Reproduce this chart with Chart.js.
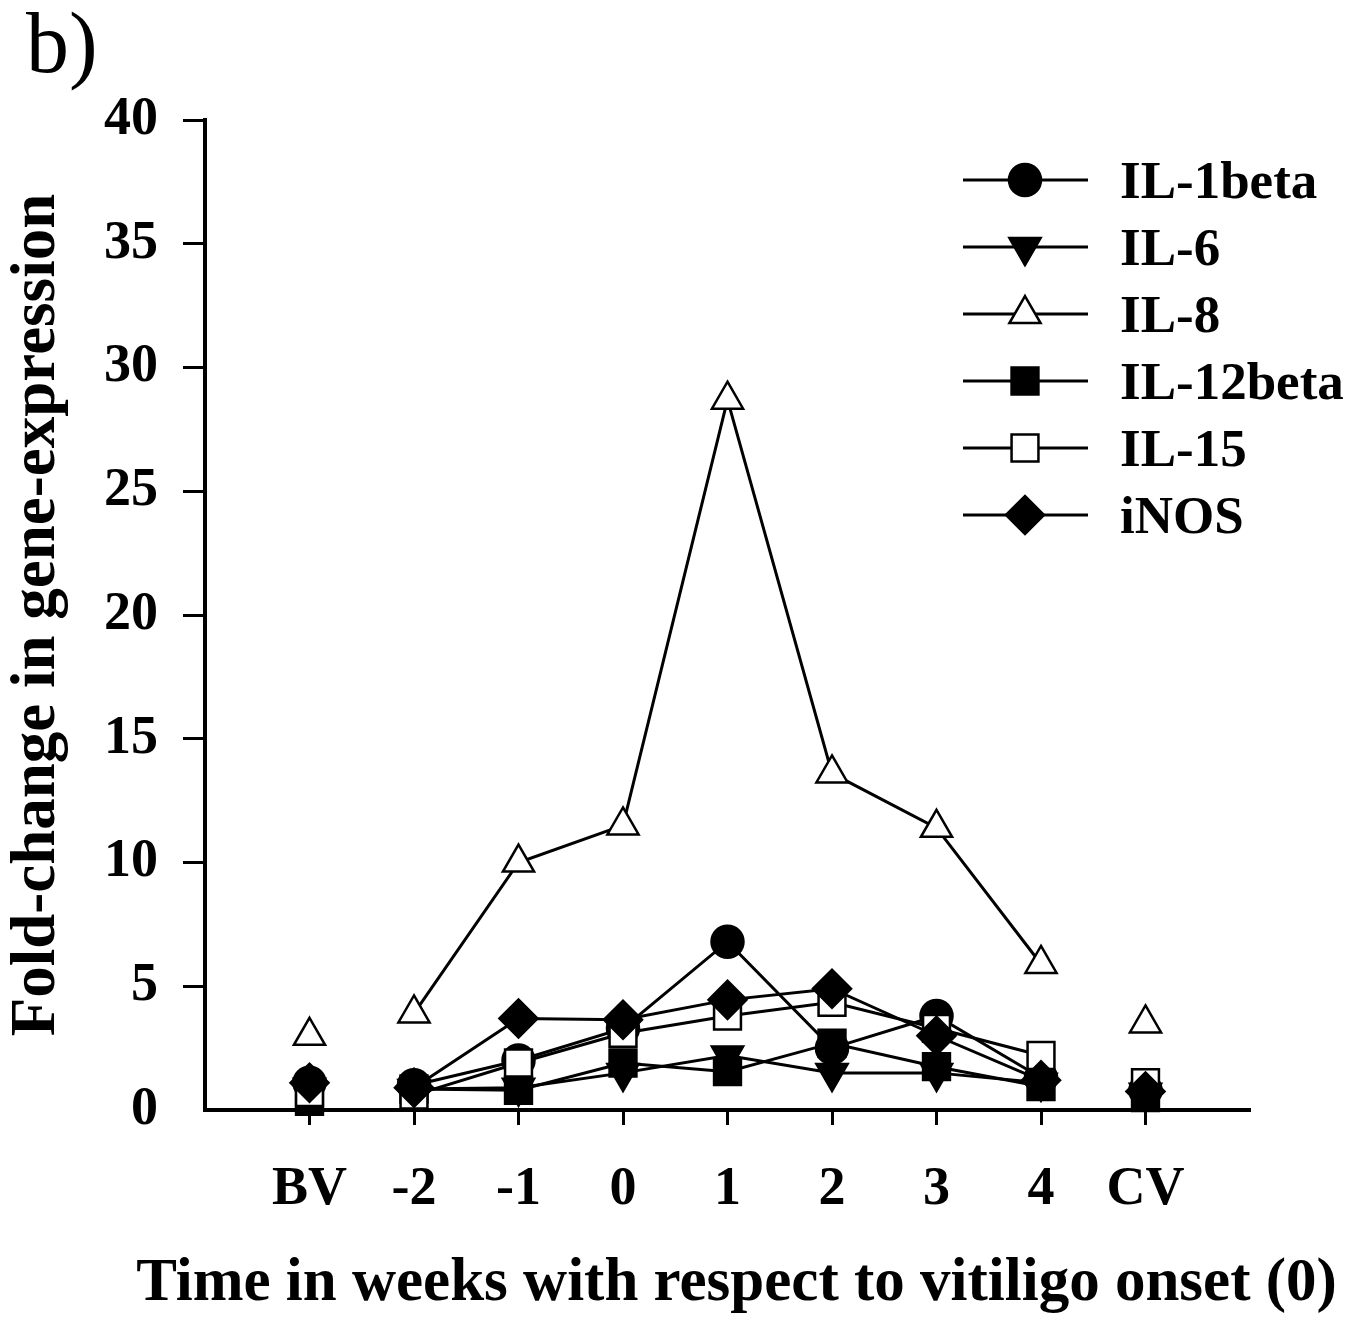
<!DOCTYPE html>
<html>
<head>
<meta charset="utf-8">
<script src="https://cdn.jsdelivr.net/npm/chart.js@4.4.1/dist/chart.umd.min.js"></script>
<style>
  html, body { margin: 0; padding: 0; background: #fff; }
  #wrap { width: 1370px; height: 1322px; position: relative; }
</style>
</head>
<body>
<div id="wrap"><canvas id="chart"></canvas></div>
<script>
// categories along the x axis (week relative to vitiligo onset)
const xLabels = ['BV', '-2', '-1', '0', '1', '2', '3', '4', 'CV'];

// fold-change values, one per category
const il1beta = [1.1, 1.0, 2.0, 3.3, 6.8, 2.5, 3.8, 1.3, 0.8];
const il6 = [0.9, 0.85, 0.9, 1.5, 2.2, 1.5, 1.5, 1.1, 0.7];
const il8 = [3.0, 3.9, 10.0, 11.5, 28.7, 13.6, 11.4, 5.9, 3.5];
const il12beta = [0.35, 0.85, 0.8, 1.9, 1.55, 2.7, 1.75, 0.95, 0.5];
const il15 = [0.7, 0.6, 1.9, 3.1, 3.8, 4.35, 3.3, 2.2, 1.1];
const inos = [1.1, 0.9, 3.7, 3.65, 4.45, 4.9, 3.0, 1.2, 0.75];

const yMin = 0;
const yMax = 40;
const yStep = 5;

const xTitle = 'Time in weeks with respect to vitiligo onset (0)';
const yTitle = 'Fold-change in gene-expression';

const FONT = '"Liberation Serif", "Times New Roman", serif';

function toPoints(values) {
  return values.map((v, i) => ({ x: i, y: v }));
}

// BV and CV are reference samples: shown as points only, not joined to the time course
function segmentColor(ctx) {
  if (ctx.p0DataIndex === 0 || ctx.p1DataIndex === xLabels.length - 1) return 'rgba(0,0,0,0)';
  return '#000';
}

// later series sit on top of earlier ones, like in the original plot
function series(label, values, pointStyle, fill, radius, order, rotation) {
  return {
    label,
    order,
    data: toPoints(values),
    borderColor: '#000',
    borderWidth: 3,
    pointStyle,
    pointRadius: radius,
    pointHoverRadius: radius,
    pointRotation: rotation || 0,
    pointBackgroundColor: fill,
    pointBorderColor: '#000',
    pointBorderWidth: 2.5,
    segment: { borderColor: segmentColor },
    clip: false,
    tension: 0,
  };
}

// panel letter, x-axis title (the scale title would be squeezed to the axis width) and legend
const figurePlugin = {
  id: 'figureText',
  afterDraw(chart) {
    const ctx = chart.ctx;
    const area = chart.chartArea;
    ctx.save();
    ctx.fillStyle = '#000';
    ctx.textBaseline = 'alphabetic';
    ctx.font = `86px ${FONT}`;
    ctx.fillText('b)', 26, 72);

    ctx.textAlign = 'center';
    ctx.font = `bold 61px ${FONT}`;
    ctx.fillText(xTitle, (area.left + area.right) / 2 + 9, 1300);
    ctx.textAlign = 'left';

    chart.data.datasets.forEach((ds, i) => {
      const y = 180 + i * 67;
      ctx.strokeStyle = '#000';
      ctx.lineWidth = 3;
      ctx.beginPath();
      ctx.moveTo(963, y);
      ctx.lineTo(1088, y);
      ctx.stroke();

      if (Chart.helpers && Chart.helpers.drawPoint) {
        ctx.fillStyle = ds.pointBackgroundColor;
        ctx.strokeStyle = '#000';
        ctx.lineWidth = ds.pointBorderWidth;
        Chart.helpers.drawPoint(ctx, {
          pointStyle: ds.pointStyle,
          rotation: ds.pointRotation,
          radius: ds.pointRadius,
          borderWidth: ds.pointBorderWidth,
        }, 1025, y);
      }

      ctx.fillStyle = '#000';
      ctx.font = `bold 53px ${FONT}`;
      ctx.fillText(ds.label, 1120, y + 18);
    });
    ctx.restore();
  },
};

const ctx = document.getElementById('chart').getContext('2d');
new Chart(ctx, {
  type: 'line',
  data: {
    datasets: [
      series('IL-1beta', il1beta, 'circle', '#000', 16, 5),
      series('IL-6', il6, 'triangle', '#000', 18, 4, 180),
      series('IL-8', il8, 'triangle', '#fff', 18, 3),
      series('IL-12beta', il12beta, 'rect', '#000', 19, 2),
      series('IL-15', il15, 'rect', '#fff', 19, 1),
      series('iNOS', inos, 'rectRot', '#000', 19, 0),
    ],
  },
  options: {
    responsive: true,
    maintainAspectRatio: false,
    animation: false,
    events: [],
    layout: { padding: { top: 120, right: 120, left: 0, bottom: 0 } },
    plugins: {
      legend: { display: false },
      tooltip: { enabled: false },
    },
    scales: {
      x: {
        type: 'linear',
        min: -1,
        max: xLabels.length,
        afterBuildTicks: (scale) => {
          scale.ticks = xLabels.map((_, i) => ({ value: i }));
        },
        afterFit: (scale) => {
          scale.height = 212;
          scale.paddingLeft = 0;
          scale.paddingRight = 0;
        },
        ticks: {
          autoSkip: false,
          maxRotation: 0,
          padding: 33,
          color: '#000',
          font: { family: FONT, size: 54, weight: 'bold' },
          callback: (value) => xLabels[value],
        },
        grid: {
          drawOnChartArea: false,
          drawTicks: true,
          tickLength: 15,
          tickWidth: 3,
          tickColor: '#000',
        },
        border: { display: true, color: '#000', width: 4 },
        title: { display: false },
      },
      y: {
        min: yMin,
        max: yMax,
        afterFit: (scale) => {
          scale.width = 205;
          scale.paddingTop = 0;
          scale.paddingBottom = 0;
        },
        ticks: {
          stepSize: yStep,
          padding: 25,
          color: '#000',
          font: { family: FONT, size: 54, weight: 'bold' },
        },
        grid: {
          drawOnChartArea: false,
          drawTicks: true,
          tickLength: 22,
          tickWidth: 3,
          tickColor: (c) => (c.tick && c.tick.value === 0 ? 'rgba(0,0,0,0)' : '#000'),
        },
        border: { display: true, color: '#000', width: 4 },
        title: {
          display: true,
          text: yTitle,
          color: '#000',
          font: { family: FONT, size: 63, weight: 'bold' },
          padding: { top: 0, bottom: 0 },
        },
      },
    },
  },
  plugins: [figurePlugin],
});
</script>
</body>
</html>
